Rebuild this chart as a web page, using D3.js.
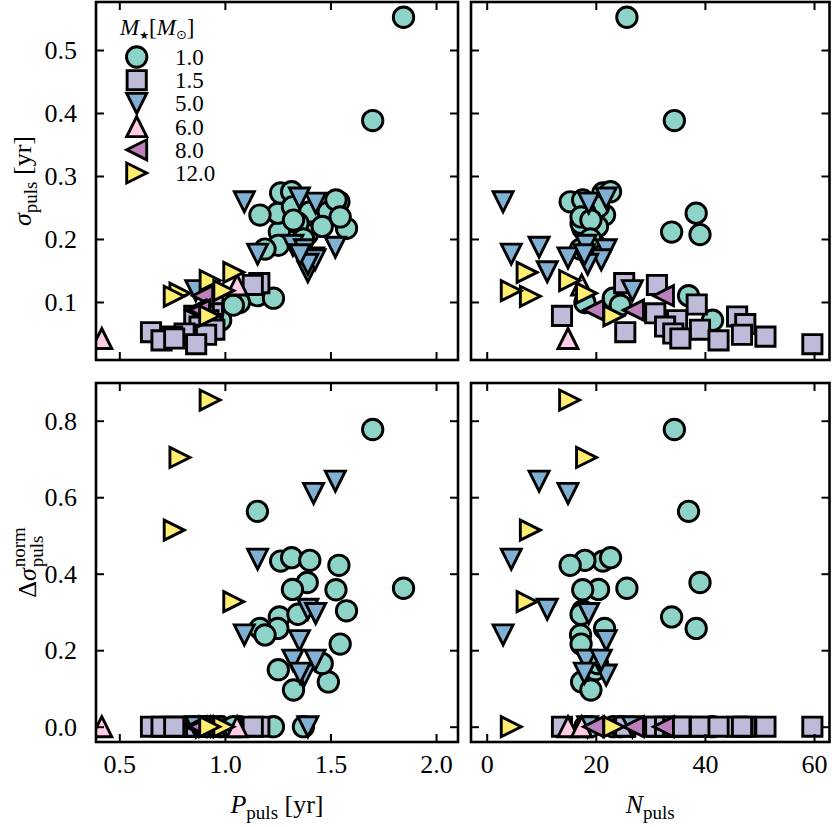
<!DOCTYPE html>
<html><head><meta charset="utf-8">
<script src="https://cdn.jsdelivr.net/npm/d3@7"></script>
<style>
body{margin:0;background:#fff}
svg{display:block}
text{font-family:"Liberation Serif","Times New Roman",serif;fill:#000}
</style>
</head><body>
<svg id="c" width="832" height="827"></svg>
<script>
// ---------------- DATA ----------------
const massLabels = ["1.0", "1.5", "5.0", "6.0", "8.0", "12.0"];
const markerTypes = ["circle", "square", "tri_down", "tri_up", "tri_left", "tri_right"];
const markerColors = ["#8dd3c7", "#bebada", "#80b1d3", "#fccde5", "#bc80bd", "#ffed6f"];

// M = 1.0
const P_10   = [1.846,1.700,1.154,1.390,1.258,1.251,0.980,1.264,1.316,1.166,1.320,1.402,1.490,1.540,1.576,1.526,1.253,1.190,1.461,1.346,1.230,1.069,1.546,1.325,1.372,1.040];
const N_10   = [25.7,34.4,37.0,39.1,33.9,38.4,41.4,21.3,22.7,21.6,20.5,18.0,17.4,15.3,17.6,17.6,19.9,17.2,20.3,17.3,23.2,18.0,17.3,19.1,19.0,24.5];
const sig_10 = [0.552,0.388,0.110,0.207,0.211,0.241,0.071,0.273,0.275,0.238,0.251,0.243,0.243,0.259,0.217,0.262,0.190,0.184,0.220,0.225,0.106,0.099,0.235,0.230,0.200,0.095];
const dsn_10 = [0.362,0.777,0.563,0.377,0.287,0.257,0.000,0.433,0.442,0.257,0.359,0.435,0.117,0.422,0.303,0.358,0.149,0.240,0.165,0.294,0.000,0.000,0.216,0.096,0.000,0.000];
// M = 1.5
const P_15   = [1.163,1.132,0.945,0.943,0.855,0.900,0.922,0.935,0.880,0.950,0.650,0.809,0.911,0.750,0.700,0.760,0.864];
const N_15   = [25.2,31.2,38.5,30.9,13.8,45.9,34.9,47.4,32.7,39.1,25.4,34.2,46.8,51.1,42.5,35.5,59.7];
const sig_15 = [0.130,0.127,0.096,0.082,0.078,0.077,0.071,0.065,0.061,0.056,0.052,0.050,0.048,0.045,0.039,0.042,0.033];
const dsn_15 = [0,0,0,0,0,0,0,0,0,0,0,0,0,0,0,0,0];
// M = 5.0
const P_50   = [1.092,1.155,1.523,1.420,1.393,0.862,1.430,1.353,1.322,1.377,1.427,1.393,1.356];
const N_50   = [3.0,4.5,9.6,14.9,11.1,26.7,18.7,21.9,18.2,21.9,21.0,18.5,17.9];
const sig_50 = [0.259,0.176,0.187,0.170,0.148,0.118,0.257,0.265,0.190,0.183,0.167,0.160,0.175];
const dsn_50 = [0.240,0.438,0.642,0.610,0.307,0.000,0.296,0.225,0.174,0.135,0.174,0.000,0.140];
// M = 6.0
const P_60   = [0.417,1.058];
const N_60   = [14.9,17.4];
const sig_60 = [0.042,0.127];
const dsn_60 = [0,0];
// M = 8.0
const P_80   = [0.895,0.863,0.880];
const N_80   = [32.4,19.6,26.9];
const sig_80 = [0.110,0.087,0.087];
const dsn_80 = [0,0,0];
// M = 12.0
const P_120   = [0.930,0.787,0.760,1.042,0.995,0.928];
const N_120   = [15.2,18.3,8.0,7.4,4.5,23.3];
const sig_120 = [0.134,0.114,0.109,0.147,0.118,0.078];
const dsn_120 = [0.854,0.704,0.514,0.327,0.000,0.000];

const xTicksP = [0.5, 1.0, 1.5, 2.0];
const xTicksN = [0, 20, 40, 60];
const yTicksSig = [0.1, 0.2, 0.3, 0.4, 0.5];
const yTicksD = [0.0, 0.2, 0.4, 0.6, 0.8];

// ---------------- BUILD ----------------
const groups = [
  {P:P_10, N:N_10, s:sig_10, d:dsn_10},
  {P:P_15, N:N_15, s:sig_15, d:dsn_15},
  {P:P_50, N:N_50, s:sig_50, d:dsn_50},
  {P:P_60, N:N_60, s:sig_60, d:dsn_60},
  {P:P_80, N:N_80, s:sig_80, d:dsn_80},
  {P:P_120, N:N_120, s:sig_120, d:dsn_120}
].map((g,i)=>({
  label: massLabels[i], type: markerTypes[i], color: markerColors[i],
  pts: g.P.map((p,j)=>({P:p, N:g.N[j], s:g.s[j], d:g.d[j]}))
}));

function shape(type){
  const r = 10.2, a = 9.6, t = 10;
  switch(type){
    case "circle": return `M${r},0A${r},${r} 0 1,1 ${-r},0A${r},${r} 0 1,1 ${r},0Z`;
    case "square": return `M${-a},${-a}H${a}V${a}H${-a}Z`;
    case "tri_up": return `M0,${-t}L${t},${t}L${-t},${t}Z`;
    case "tri_down": return `M0,${t}L${-t},${-t}L${t},${-t}Z`;
    case "tri_left": return `M${-t},0L${t},${-t}L${t},${t}Z`;
    case "tri_right": return `M${t},0L${-t},${t}L${-t},${-t}Z`;
  }
}

const FONT = "Liberation Serif, Times New Roman, serif";
const svg = d3.select("#c");
svg.append("rect").attr("width",832).attr("height",827).attr("fill","#fff");

const XL = [96, 458], XR = [471, 829.5], YT = [2, 360], YB = [383, 742];
const xP = d3.scaleLinear().domain([0.3896, 2.104]).range(XL);
const xN = d3.scaleLinear().domain([-2.88, 62.84]).range(XR);
const yS = d3.scaleLinear().domain([0.0079, 0.5762]).range([YT[1], YT[0]]);
const yD = d3.scaleLinear().domain([-0.04, 0.8986]).range([YB[1], YB[0]]);

const f1 = d3.format(".1f"), f0 = d3.format("d");

const panels = [
  {id:"tl", x:xP, y:yS, xk:"P", yk:"s", xt:xTicksP, yt:yTicksSig, showX:false, showY:true, xf:f1, yf:f1},
  {id:"tr", x:xN, y:yS, xk:"N", yk:"s", xt:xTicksN, yt:yTicksSig, showX:false, showY:false, xf:f0, yf:f1},
  {id:"bl", x:xP, y:yD, xk:"P", yk:"d", xt:xTicksP, yt:yTicksD, showX:true, showY:true, xf:f1, yf:f1},
  {id:"br", x:xN, y:yD, xk:"N", yk:"d", xt:xTicksN, yt:yTicksD, showX:true, showY:false, xf:f0, yf:f1}
];

const defs = svg.append("defs");
panels.forEach(p=>{
  const [x0,x1] = p.x.range(), [y1,y0] = p.y.range();
  defs.append("clipPath").attr("id","clip-"+p.id).append("rect")
    .attr("x",x0).attr("y",y0).attr("width",x1-x0).attr("height",y1-y0);
  const g = svg.append("g");
  const pg = g.append("g").attr("clip-path",`url(#clip-${p.id})`);
  groups.forEach(gr=>{
    pg.append("g").selectAll("path").data(gr.pts).join("path")
      .attr("d", shape(gr.type))
      .attr("transform", d=>`translate(${p.x(d[p.xk])},${p.y(d[p.yk])})`)
      .attr("fill", gr.color).attr("stroke","#000").attr("stroke-width",2.9)
      .attr("stroke-linejoin","miter");
  });
  const styleAxis = sel => {
    sel.attr("font-family", FONT).attr("font-size", 26);
    sel.select(".domain").remove();
    sel.selectAll(".tick line").attr("stroke","#000").attr("stroke-width",2);
    sel.selectAll(".tick text").attr("fill","#000")
      .attr("font-family", FONT).style("font-family", FONT).style("font-size","26px");
  };
  g.append("g").attr("transform",`translate(0,${y1})`)
    .call(d3.axisBottom(p.x).tickValues(p.xt).tickSize(-8).tickPadding(13).tickFormat(p.showX?p.xf:()=>""))
    .call(styleAxis);
  g.append("g").attr("transform",`translate(0,${y0})`)
    .call(d3.axisTop(p.x).tickValues(p.xt).tickSize(-8).tickFormat(()=>""))
    .call(styleAxis);
  g.append("g").attr("transform",`translate(${x0},0)`)
    .call(d3.axisLeft(p.y).tickValues(p.yt).tickSize(-8).tickPadding(19).tickFormat(p.showY?p.yf:()=>""))
    .call(styleAxis);
  g.append("g").attr("transform",`translate(${x1},0)`)
    .call(d3.axisRight(p.y).tickValues(p.yt).tickSize(-8).tickFormat(()=>""))
    .call(styleAxis);
  g.append("rect").attr("x",x0).attr("y",y0).attr("width",x1-x0).attr("height",y1-y0)
    .attr("fill","none").attr("stroke","#000").attr("stroke-width",2.6);
});

// ---------------- AXIS TITLES ----------------
function xTitle(cx, y, main, rest){
  const t = svg.append("text").attr("x",cx).attr("y",y).attr("text-anchor","middle").style("font-size","26px");
  t.append("tspan").style("font-style","italic").text(main);
  t.append("tspan").attr("dy",6).style("font-size","19px").text("puls");
  if(rest) t.append("tspan").attr("dy",-6).text(rest);
}
xTitle((XL[0]+XL[1])/2, 813, "P", " [yr]");
xTitle((XR[0]+XR[1])/2, 813, "N", null);

{
  const t = svg.append("text").attr("transform",`translate(31,${(YT[0]+YT[1])/2}) rotate(-90)`)
    .attr("text-anchor","middle").style("font-size","26px");
  t.append("tspan").style("font-style","italic").text("σ");
  t.append("tspan").attr("dy",6).style("font-size","19px").text("puls");
  t.append("tspan").attr("dy",-6).text(" [yr]");
}
{
  const g = svg.append("g");
  const t1 = g.append("text").style("font-size","26px");
  t1.append("tspan").text("Δ");
  t1.append("tspan").style("font-style","italic").text("σ");
  const w1 = t1.node().getComputedTextLength();
  const sup = g.append("text").attr("x",w1+1).attr("y",-11).style("font-size","19px").text("norm");
  const sub = g.append("text").attr("x",w1+1).attr("y",7).style("font-size","19px").text("puls");
  const w = w1 + 1 + Math.max(sup.node().getComputedTextLength(), sub.node().getComputedTextLength());
  g.attr("transform",`translate(36,${(YB[0]+YB[1])/2}) rotate(-90) translate(${-w/2},0)`);
}

// ---------------- LEGEND ----------------
{
  const lg = svg.append("g");
  const tt = lg.append("text").attr("x",120).attr("y",35).style("font-size","23px");
  tt.append("tspan").style("font-style","italic").text("M");
  tt.append("tspan").attr("dy",4).style("font-size","11px").style("font-family","DejaVu Sans").text("★");
  tt.append("tspan").attr("dy",-4).text("[");
  tt.append("tspan").style("font-style","italic").text("M");
  tt.append("tspan").attr("dy",4).style("font-size","13px").style("font-family","DejaVu Sans").text("⊙");
  tt.append("tspan").attr("dy",-4).text("]");
  groups.forEach((gr,i)=>{
    const y = 57 + i*23.2;
    lg.append("path").attr("d",shape(gr.type)).attr("transform",`translate(136.7,${y})`)
      .attr("fill",gr.color).attr("stroke","#000").attr("stroke-width",2.9);
    lg.append("text").attr("x",175).attr("y",y).attr("dy","0.35em").style("font-size","23px").text(gr.label);
  });
}
</script>
</body></html>
